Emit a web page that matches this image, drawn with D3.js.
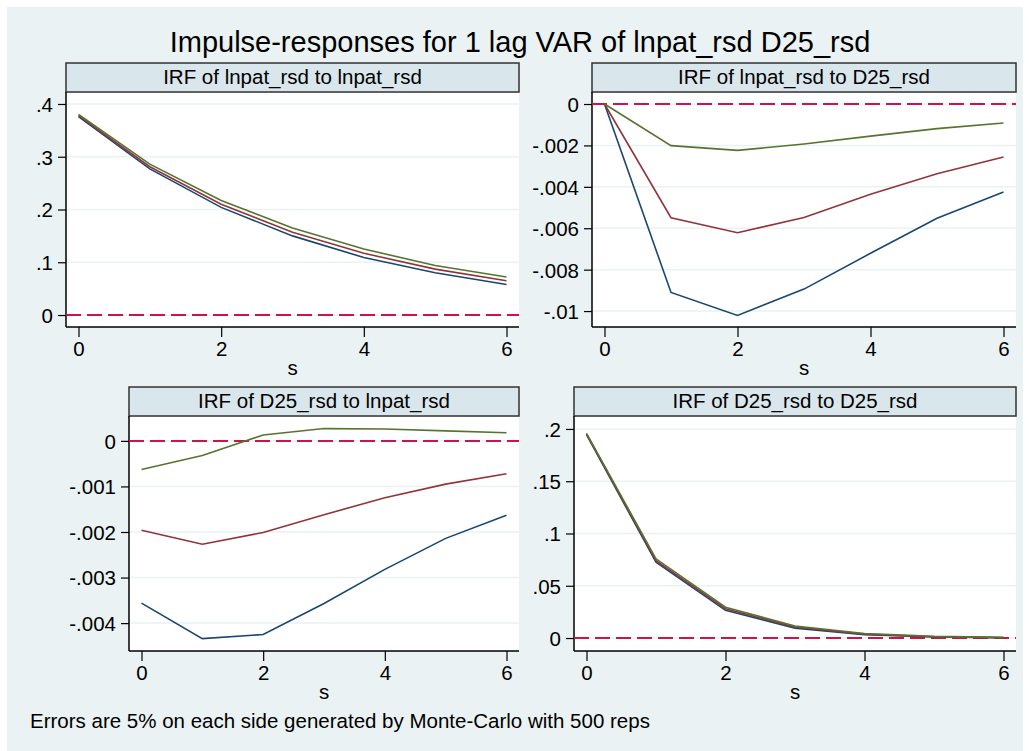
<!DOCTYPE html>
<html>
<head>
<meta charset="utf-8">
<script src="https://cdn.jsdelivr.net/npm/d3@7"></script>
<style>
  body { margin: 0; background: #fff; }
  text { font-family: "Liberation Sans", Arial, sans-serif; fill: #000; }
</style>
</head>
<body>
<script>
const width = 1029;
const height = 751;

// horizon steps
const steps = [0, 1, 2, 3, 4, 5, 6];

// IRF of lnpat_rsd to lnpat_rsd
const p1Lower = [0.376, 0.277, 0.204, 0.150, 0.109, 0.080, 0.058];
const p1Irf   = [0.378, 0.281, 0.210, 0.157, 0.117, 0.087, 0.065];
const p1Upper = [0.380, 0.286, 0.217, 0.165, 0.125, 0.094, 0.072];

// IRF of lnpat_rsd to D25_rsd
const p2Lower = [0, -0.00910, -0.01021, -0.00894, -0.00721, -0.00552, -0.00425];
const p2Irf   = [0, -0.00549, -0.00622, -0.00548, -0.00436, -0.00337, -0.00256];
const p2Upper = [0, -0.00201, -0.00224, -0.00193, -0.00155, -0.00119, -0.00092];

// IRF of D25_rsd to lnpat_rsd
const p3Lower = [-0.00356, -0.00434, -0.00425, -0.00357, -0.00282, -0.00214, -0.00163];
const p3Irf   = [-0.00196, -0.00227, -0.00201, -0.00162, -0.00125, -0.00095, -0.00072];
const p3Upper = [-0.00063, -0.00032, 0.00013, 0.00027, 0.00026, 0.00022, 0.00018];

// IRF of D25_rsd to D25_rsd
const p4Lower = [0.1945, 0.0725, 0.0265, 0.0095, 0.0032, 0.0010, 0.0003];
const p4Irf   = [0.1952, 0.0740, 0.0280, 0.0105, 0.0037, 0.0013, 0.0004];
const p4Upper = [0.1958, 0.0758, 0.0295, 0.0115, 0.0043, 0.0016, 0.0006];

const xTicks = [0, 2, 4, 6];

const panels = [
  { title: "IRF of lnpat_rsd to lnpat_rsd", series: [p1Lower, p1Irf, p1Upper],
    yTicks: [0, 0.1, 0.2, 0.3, 0.4], yDomain: [-0.0227, 0.4227],
    left: 66, right: 519, top: 63 },
  { title: "IRF of lnpat_rsd to D25_rsd", series: [p2Lower, p2Irf, p2Upper],
    yTicks: [0, -0.002, -0.004, -0.006, -0.008, -0.01], yDomain: [-0.01077, 0.00058],
    left: 592, right: 1016, top: 63 },
  { title: "IRF of D25_rsd to lnpat_rsd", series: [p3Lower, p3Irf, p3Upper],
    yTicks: [0, -0.001, -0.002, -0.003, -0.004], yDomain: [-0.004612, 0.000546],
    left: 129, right: 519, top: 387 },
  { title: "IRF of D25_rsd to D25_rsd", series: [p4Lower, p4Irf, p4Upper],
    yTicks: [0, 0.05, 0.1, 0.15, 0.2], yDomain: [-0.0124, 0.2124],
    left: 574, right: 1016, top: 387 }
];

const colors = ["#1a476f", "#90353b", "#55752f"];
const headerH = 29;
const plotH = 235;
const xPad = 12.5;
const fs = "20.5px";

const fmt = v => v === 0 ? "0" : String(+v.toFixed(4)).replace("0.", ".");

const svg = d3.select("body").append("svg")
  .attr("width", width).attr("height", height);

svg.append("rect").attr("x", 7).attr("y", 7)
  .attr("width", 1016).attr("height", 744)
  .attr("fill", "#eaf2f3");

svg.append("text")
  .attr("x", 520).attr("y", 52)
  .attr("text-anchor", "middle")
  .style("font-size", "29px")
  .text("Impulse-responses for 1 lag VAR of lnpat_rsd D25_rsd");

panels.forEach(p => {
  const g = svg.append("g");
  const plotTop = p.top + headerH;
  const plotBottom = plotTop + plotH;

  const x = d3.scaleLinear().domain([0, 6]).range([p.left + xPad, p.right - xPad]);
  const y = d3.scaleLinear().domain(p.yDomain).range([plotBottom, plotTop]);

  // header strip
  g.append("rect")
    .attr("x", p.left).attr("y", p.top)
    .attr("width", p.right - p.left).attr("height", headerH)
    .attr("fill", "#d9e6eb").attr("stroke", "#333").attr("stroke-width", 1.5);
  g.append("text")
    .attr("x", (p.left + p.right) / 2).attr("y", p.top + headerH - 8)
    .attr("text-anchor", "middle")
    .style("font-size", fs)
    .text(p.title);

  // plot region
  g.append("rect")
    .attr("x", p.left).attr("y", plotTop + 1)
    .attr("width", p.right - p.left).attr("height", plotH - 1)
    .attr("fill", "#fff");

  g.selectAll(".grid").data(p.yTicks).enter().append("line")
    .attr("x1", p.left).attr("x2", p.right)
    .attr("y1", d => y(d)).attr("y2", d => y(d))
    .attr("stroke", "#eaf2f3").attr("stroke-width", 1.5);

  // y axis
  const yAxis = g.append("g").attr("transform", `translate(${p.left},0)`)
    .call(d3.axisLeft(y).tickValues(p.yTicks).tickFormat(fmt).tickSizeInner(8).tickSizeOuter(0).tickPadding(5));
  yAxis.select(".domain").attr("stroke", "#000").attr("stroke-width", 1.5)
    .attr("d", `M0,${plotTop}V${plotBottom}`);
  yAxis.selectAll(".tick line").attr("stroke", "#000").attr("stroke-width", 1.2);
  yAxis.selectAll(".tick text").style("font-size", fs)
    .attr("font-family", null).attr("dy", "0.36em");

  // x axis
  const xAxis = g.append("g").attr("transform", `translate(0,${plotBottom})`)
    .call(d3.axisBottom(x).tickValues(xTicks).tickFormat(d3.format("d")).tickSizeInner(10).tickSizeOuter(0).tickPadding(4));
  xAxis.select(".domain").attr("stroke", "#000").attr("stroke-width", 1.5)
    .attr("d", `M${p.left},0H${p.right}`);
  xAxis.selectAll(".tick line").attr("stroke", "#000").attr("stroke-width", 1.2);
  xAxis.selectAll(".tick text").style("font-size", fs).attr("font-family", null);

  g.append("text")
    .attr("x", (p.left + p.right) / 2).attr("y", plotBottom + 48)
    .attr("text-anchor", "middle")
    .style("font-size", fs)
    .text("s");

  // zero reference line
  g.append("line")
    .attr("x1", p.left).attr("x2", p.right)
    .attr("y1", y(0)).attr("y2", y(0))
    .attr("stroke", "#d0114a").attr("stroke-width", 2)
    .attr("stroke-dasharray", "15,6");

  const line = d3.line().x((d, i) => x(steps[i])).y(d => y(d));
  p.series.forEach((s, k) => {
    g.append("path").datum(s)
      .attr("d", line)
      .attr("fill", "none")
      .attr("stroke", colors[k])
      .attr("stroke-width", 1.6);
  });
});

svg.append("text")
  .attr("x", 30).attr("y", 728)
  .style("font-size", fs)
  .text("Errors are 5% on each side generated by Monte-Carlo with 500 reps");
</script>
</body>
</html>
